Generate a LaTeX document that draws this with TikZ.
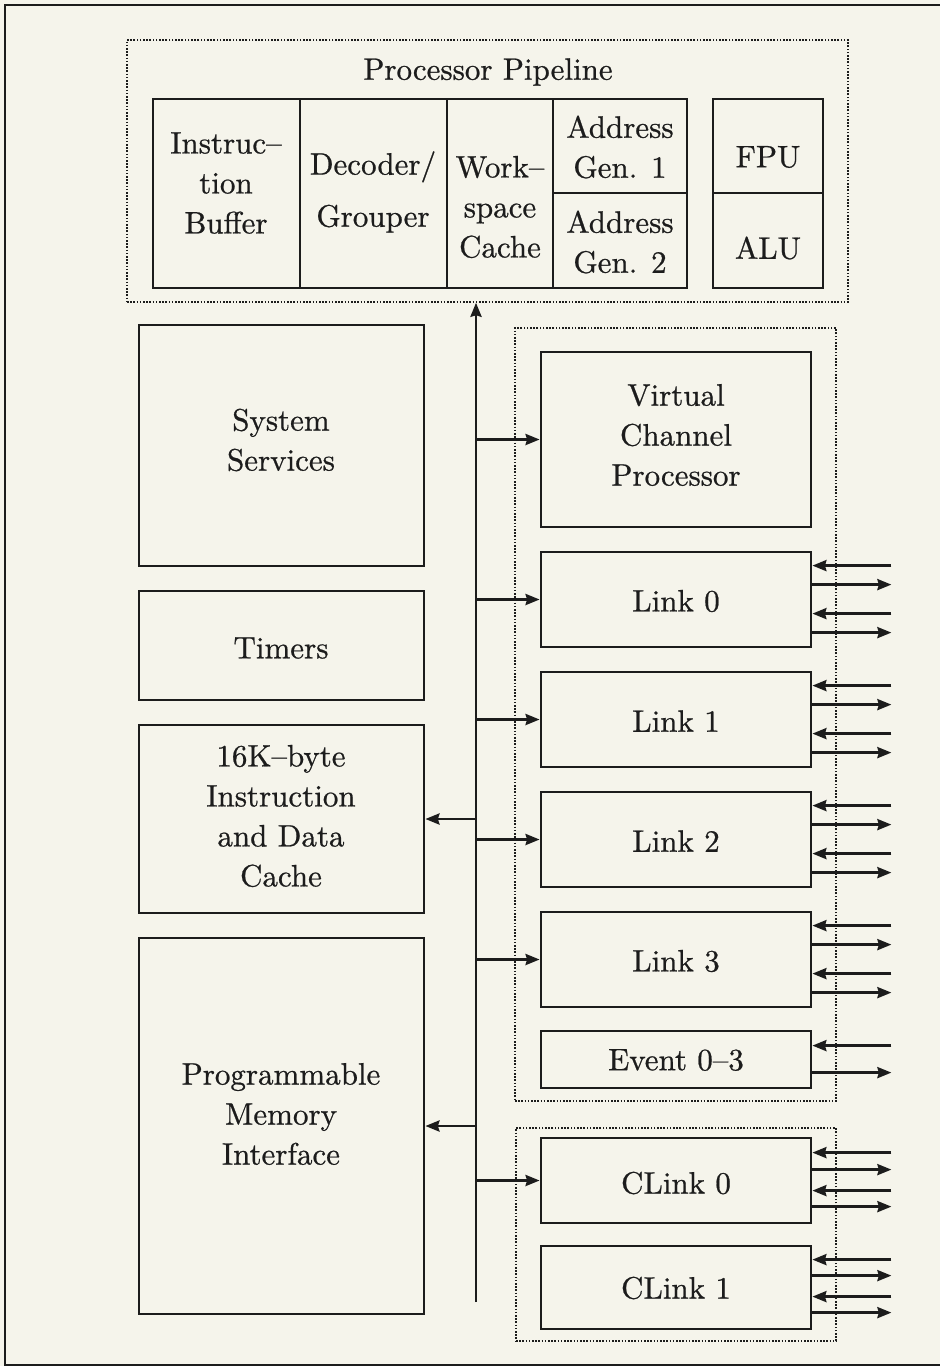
\documentclass[tikz,border=0pt]{standalone}
\usepackage{fontspec}
\newfontfamily\cmfont{lmroman10-regular}[Extension=.otf, FakeBold=0.7]
\usetikzlibrary{arrows.meta,fit,calc}
\definecolor{paper}{RGB}{245,244,235}
\definecolor{ink}{RGB}{28,28,28}

\begin{document}
\begin{tikzpicture}[x=1pt,y=-1pt,
  every node/.style={font=\cmfont\fontsize{31}{40}\selectfont, text=ink},
  box/.style={draw=ink, line width=2.8pt, inner sep=0pt},
  group/.style={draw=ink, line width=1.5pt, dash pattern=on 1.6pt off 1.6pt, inner sep=0pt},
  arr/.style={draw=ink, line width=2.8pt, -{Stealth[length=14pt,width=11pt,inset=1.5pt]}},
  lbl/.style={align=center, inner sep=0pt}]

% page and frame
\fill[paper] (0,0) rectangle (940,1366);
\useasboundingbox (0,0) rectangle (940,1366);
\draw[ink, line width=2.4pt] (940,5) -- (5,5) -- (5,1365) -- (940,1365);

% processor pipeline
\node[group, fit={(127,40) (848,302)}] (pipe) {};
\node[lbl] (pipe-t) at (488,72) {Processor Pipeline};
\node[box, fit={(153,99) (300,288)}] (ib) {};
\node[box, fit={(300,99) (447,288)}] (dg) {};
\node[box, fit={(447,99) (553,288)}] (ws) {};
\node[box, fit={(553,99) (687,193)}] (ag1) {};
\node[box, fit={(553,193) (687,288)}] (ag2) {};
\node[box, fit={(713,99) (823,193)}] (fpu) {};
\node[box, fit={(713,193) (823,288)}] (alu) {};
\node[lbl] (ib-t) at (226,183) {Instruc–\\tion\\Buffer};
\node[lbl] (dg-t) at (373,192) {Decoder/\\[12pt]Grouper};
\node[lbl] (ws-t) at (500,207) {Work–\\space\\Cache};
\node[lbl] (ag1-t) at (620,147) {Address\\Gen. 1};
\node[lbl] (ag2-t) at (620,242) {Address\\Gen. 2};
\node[lbl] (fpu-t) at (768,157) {FPU};
\node[lbl] (alu-t) at (768,248) {ALU};

% left column
\node[box, fit={(139,325) (424,566)}] (ss) {};
\node[box, fit={(139,591) (424,700)}] (tm) {};
\node[box, fit={(139,725) (424,913)}] (ch) {};
\node[box, fit={(139,938) (424,1314)}] (pmi) {};
\node[lbl] (ss-t) at (281,440) {System\\Services};
\node[lbl] (tm-t) at (281,648) {Timers};
\node[lbl] (ch-t) at (281,816) {16K–byte\\Instruction\\and Data\\Cache};
\node[lbl] (pmi-t) at (281,1114) {Programmable\\Memory\\Interface};

% right column: channel processor, links and events
\node[group, fit={(515,328) (836,1101)}] (grpA) {};
\node[box, fit={(541,352) (811,527)}] (vcp) {};
\node[box, fit={(541,552) (811,647)}] (l0) {};
\node[box, fit={(541,672) (811,767)}] (l1) {};
\node[box, fit={(541,792) (811,887)}] (l2) {};
\node[box, fit={(541,912) (811,1007)}] (l3) {};
\node[box, fit={(541,1031) (811,1088)}] (ev) {};
\node[lbl] (vcp-t) at (676,435) {Virtual\\Channel\\Processor};
\node[lbl] (l0-t) at (676,601) {Link 0};
\node[lbl] (l1-t) at (676,721) {Link 1};
\node[lbl] (l2-t) at (676,841) {Link 2};
\node[lbl] (l3-t) at (676,961) {Link 3};
\node[lbl] (ev-t) at (676,1060) {Event 0–3};

% right column: control links
\node[group, fit={(516,1128) (836,1341)}] (grpB) {};
\node[box, fit={(541,1138) (811,1223)}] (c0) {};
\node[box, fit={(541,1246) (811,1329)}] (c1) {};
\node[lbl] (c0-t) at (676,1183) {CLink 0};
\node[lbl] (c1-t) at (676,1288) {CLink 1};

% internal bus
\coordinate (busB) at (476,1302);
\draw[arr] (busB) -- (busB |- pipe.south);
\foreach \n in {vcp,l0,l1,l2,l3,c0}
  \draw[arr] (busB |- \n.west) -- (\n.west);
\foreach \n in {ch,pmi}
  \draw[arr] (busB |- \n.east) -- (\n.east);

% external link wires: in, out, in, out
\foreach \n/\a/\b/\c/\d in {l0/15/34/63/82, l1/15/34/63/82, l2/15/34/63/82,
                            l3/15/34/63/82, c0/16/33/54/70, c1/15/31/52/68} {
  \coordinate (\n-i1) at ($(\n.north east)+(79,\a)$);
  \coordinate (\n-o1) at ($(\n.north east)+(79,\b)$);
  \coordinate (\n-i2) at ($(\n.north east)+(79,\c)$);
  \coordinate (\n-o2) at ($(\n.north east)+(79,\d)$);
  \draw[arr] (\n-i1) -- (\n-i1 -| \n.east);
  \draw[arr] (\n-o1 -| \n.east) -- (\n-o1);
  \draw[arr] (\n-i2) -- (\n-i2 -| \n.east);
  \draw[arr] (\n-o2 -| \n.east) -- (\n-o2);
}
\coordinate (ev-i) at ($(ev.north east)+(79,16)$);
\coordinate (ev-o) at ($(ev.north east)+(79,43)$);
\draw[arr] (ev-i) -- (ev-i -| ev.east);
\draw[arr] (ev-o -| ev.east) -- (ev-o);
\end{tikzpicture}
\end{document}
